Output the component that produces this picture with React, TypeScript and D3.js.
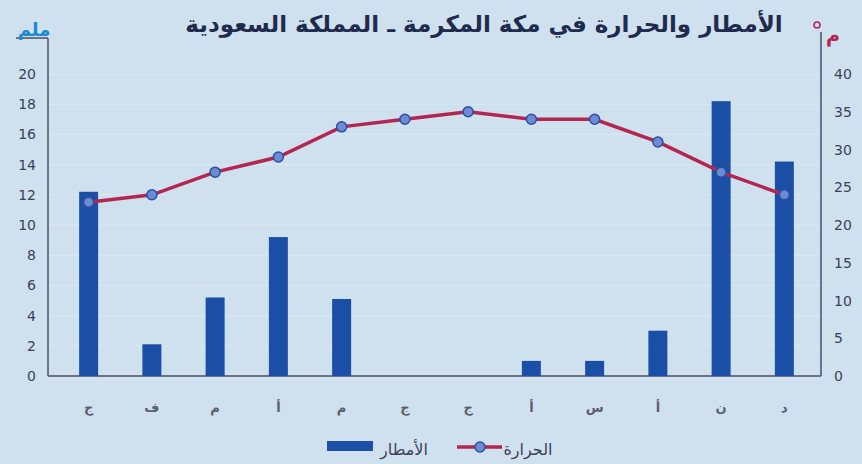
import * as d3 from "d3";

const months = ["ج", "ف", "م", "أ", "م", "ج", "ج", "أ", "س", "أ", "ن", "د"];
const rain = [12.2, 2.1, 5.2, 9.2, 5.1, 0, 0, 1, 1, 3, 18.2, 14.2];
const temp = [23, 24, 27, 29, 33, 34, 35, 34, 34, 31, 27, 24];
const rainTicks = [0, 2, 4, 6, 8, 10, 12, 14, 16, 18, 20];
const tempTicks = [0, 5, 10, 15, 20, 25, 30, 35, 40];

const W = 862;
const H = 464;
const axisL = 48;
const axisR = 821;
const y0 = 376;
const yTop = 74;

const BG = "#cfe0ef";
const BAR = "#1b4fa6";
const LINE = "#b2264f";
const FONT = "'DejaVu Sans', sans-serif";

export default function App() {
  const x = d3
    .scaleBand<string>()
    .domain(months.map((_, i) => String(i)))
    .range([57, 816])
    .paddingInner(0.7)
    .paddingOuter(0.35);
  const yRain = d3.scaleLinear().domain([0, 20]).range([y0, yTop]);
  const yTemp = d3.scaleLinear().domain([0, 40]).range([y0, yTop]);
  const cx = (i: number) => (x(String(i)) ?? 0) + x.bandwidth() / 2;

  const line = d3
    .line<number>()
    .x((_, i) => cx(i))
    .y((d) => yTemp(d));

  return (
    <svg
      width={W}
      height={H}
      style={{ position: "absolute", left: 0, top: 0, background: BG }}
      fontFamily={FONT}
    >
      <rect width={W} height={H} fill={BG} />
      <text
        x={484}
        y={32}
        textAnchor="middle"
        fontSize={23}
        fontWeight="bold"
        fill="#1f2b4d"
        direction="rtl"
      >
        الأمطار والحرارة في مكة المكرمة ـ المملكة السعودية
      </text>

      {rainTicks.slice(1).map((t) => (
        <line
          key={t}
          x1={axisL}
          x2={axisR}
          y1={yRain(t)}
          y2={yRain(t)}
          stroke="#dde8f2"
          strokeWidth={1}
        />
      ))}

      {/* axes */}
      <line x1={16} x2={axisL} y1={38} y2={38} stroke="#4a4f66" strokeWidth={1.5} />
      <line x1={axisL} x2={axisL} y1={38} y2={y0} stroke="#4a4f66" strokeWidth={1.5} />
      <line x1={axisR} x2={axisR} y1={32} y2={y0} stroke="#4a4f66" strokeWidth={1.5} />
      <line x1={axisL} x2={axisR} y1={y0} y2={y0} stroke="#4a4f66" strokeWidth={1.5} />

      <text x={34} y={36} textAnchor="middle" fontSize={18} fontWeight="bold" fill="#1a8ad0">
        ملم
      </text>
      <circle cx={817} cy={25} r={3} fill="none" stroke={LINE} strokeWidth={1.6} />
      <text x={833} y={42} textAnchor="middle" fontSize={19} fontWeight="bold" fill={LINE}>
        م
      </text>

      {rainTicks.map((t) => (
        <text
          key={t}
          x={36}
          y={yRain(t) + 5}
          textAnchor="end"
          fontSize={14}
          fill="#3b4058"
        >
          {t}
        </text>
      ))}
      {tempTicks.map((t) => (
        <text
          key={t}
          x={834}
          y={yTemp(t) + 5}
          textAnchor="start"
          fontSize={14}
          fill="#3b4058"
        >
          {t}
        </text>
      ))}

      {rain.map((v, i) => (
        <rect
          key={i}
          x={x(String(i))}
          y={yRain(v)}
          width={x.bandwidth()}
          height={y0 - yRain(v)}
          fill={BAR}
        />
      ))}

      <path d={line(temp) ?? ""} fill="none" stroke={LINE} strokeWidth={3.5} />
      {temp.map((v, i) => (
        <circle
          key={i}
          cx={cx(i)}
          cy={yTemp(v)}
          r={5}
          fill="#6a8cd6"
          stroke="#2d4f9e"
          strokeWidth={1.5}
        />
      ))}

      {months.map((m, i) => (
        <text
          key={i}
          x={cx(i)}
          y={412}
          textAnchor="middle"
          fontSize={13}
          fontWeight="bold"
          fill="#5a5f6a"
        >
          {m}
        </text>
      ))}

      {/* legend */}
      <rect x={327} y={441} width={46} height={10} fill={BAR} />
      <text x={404} y={455} textAnchor="middle" fontSize={16} fill="#3b4058">
        الأمطار
      </text>
      <line x1={457} x2={502} y1={447} y2={447} stroke={LINE} strokeWidth={3.5} />
      <circle cx={480} cy={447} r={5} fill="#6a8cd6" stroke="#2d4f9e" strokeWidth={1.5} />
      <text x={528} y={455} textAnchor="middle" fontSize={16} fill="#3b4058">
        الحرارة
      </text>
    </svg>
  );
}
